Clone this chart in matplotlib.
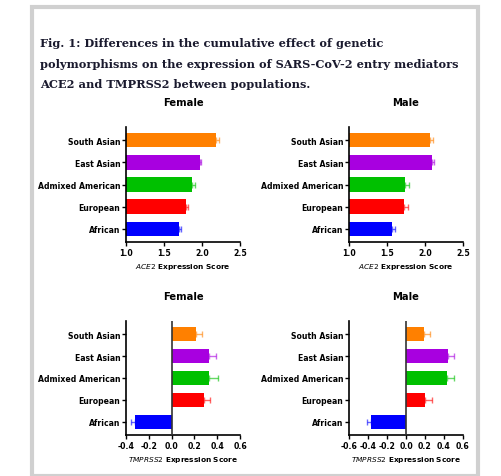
import matplotlib
matplotlib.use("Agg")
import matplotlib.pyplot as plt
from matplotlib.patches import Rectangle

pops = ["African", "European", "Admixed American", "East Asian", "South Asian"]
colors = ["#0000ff", "#ff0000", "#00c000", "#a800e0", "#ff8000"]
ace2_f = [1.70, 1.79, 1.87, 1.97, 2.19]
ace2_f_err = [0.03, 0.03, 0.04, 0.02, 0.03]
ace2_m = [1.56, 1.73, 1.74, 2.09, 2.07]
ace2_m_err = [0.04, 0.04, 0.05, 0.03, 0.03]
tmp_f = [-0.32, 0.28, 0.33, 0.33, 0.21]
tmp_f_err = [0.04, 0.06, 0.08, 0.06, 0.06]
tmp_m = [-0.37, 0.20, 0.43, 0.44, 0.19]
tmp_m_err = [0.04, 0.07, 0.08, 0.06, 0.06]

W, H = 501, 477
fig = plt.figure(figsize=(W/100, H/100), dpi=100)
fig.patches.append(Rectangle((32/W, 0), (478-32)/W, 1-8/H, transform=fig.transFigure,
                             fill=False, edgecolor="#d0d0d0", lw=3))
fig.text(40/W, 1-64/H, "Fig. 1: Differences in the cumulative effect of genetic\npolymorphisms on the expression of SARS-CoV-2 entry mediators\nACE2 and TMPRSS2 between populations.",
         family="DejaVu Serif", weight="bold", fontsize=8.2, color="#1a1a2e", va="center", linespacing=2.05)

def panel(x0, x1, y0, y1, vals, errs, xlim, ticks, title, gene, baseline):
    ax = fig.add_axes([x0/W, 1-y1/H, (x1-x0)/W, (y1-y0)/H])
    for i, (v, e, c) in enumerate(zip(vals, errs, colors)):
        if baseline == 0:
            ax.barh(i, v, height=0.65, color=c, left=0, zorder=2)
        else:
            ax.barh(i, v - baseline, left=baseline, height=0.65, color=c, zorder=2)
        pos = v >= 0
        ax.errorbar([v], [i], xerr=[[0] if pos else [e], [e] if pos else [0]],
                    fmt="none", ecolor=c, alpha=0.6, capsize=2.5, lw=1, zorder=1)
    ax.set_xlim(*xlim)
    ax.set_ylim(-0.6, 4.6)
    ax.set_xticks(ticks)
    ax.set_xticklabels([("%.1f" % t) for t in ticks], fontsize=5.6, weight="bold")
    ax.set_yticks(list(range(len(pops))))
    ax.set_yticklabels(pops, fontsize=5.6, weight="bold")
    for s in ["top", "right"]:
        ax.spines[s].set_visible(False)
    for s in ["left", "bottom"]:
        ax.spines[s].set_linewidth(1.2)
    ax.tick_params(length=3, width=1, pad=1)
    if baseline == 0:
        ax.axvline(0, color="#333333", lw=1.2, zorder=3)
    ax.set_title(title, fontsize=7.2, weight="bold", pad=16)
    ax.set_xlabel(r"$\bf{\it{" + gene + r"}}$" + " Expression Score", fontsize=5.3, weight="bold", labelpad=3)
    return ax

panel(126, 240, 128, 243, ace2_f, ace2_f_err, (1.0, 2.5), [1.0, 1.5, 2.0, 2.5], "Female", "ACE2", 1.0)
panel(349, 463, 128, 243, ace2_m, ace2_m_err, (1.0, 2.5), [1.0, 1.5, 2.0, 2.5], "Male", "ACE2", 1.0)
panel(126, 240, 322, 436, tmp_f, tmp_f_err, (-0.4, 0.6), [-0.4, -0.2, 0.0, 0.2, 0.4, 0.6], "Female", "TMPRSS2", 0)
panel(349, 463, 322, 436, tmp_m, tmp_m_err, (-0.6, 0.6), [-0.6, -0.4, -0.2, 0.0, 0.2, 0.4, 0.6], "Male", "TMPRSS2", 0)

fig.savefig("out.png", dpi=100)
